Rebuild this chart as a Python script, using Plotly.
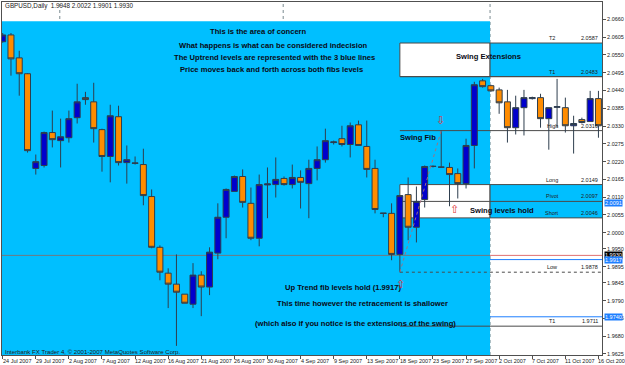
import plotly.graph_objects as go

# ---------------- data ----------------
bars = list(range(73))
opens = [2.0591, 2.0612, 2.0541, 2.0492, 2.0199, 2.0208, 2.0310, 2.0285, 2.0294, 2.0356,
         2.0418, 2.0405, 2.0319, 2.0236, 2.0359, 2.0217, 2.0216, 2.0211, 2.0112, 1.9955,
         1.9875, 1.9841, 1.9810, 1.9779, 1.9869, 1.9832, 1.9937, 2.0048, 2.0128, 2.0174,
         2.0091, 1.9983, 2.0148, 2.0149, 2.0168, 2.0149, 2.0171, 2.0152, 2.0199, 2.0226,
         2.0279, 2.0291, 2.0273, 2.0334, 2.0267, 2.0199, 2.0061, 2.0060, 1.9933, 2.0118,
         2.0017, 2.0103, 2.0206, 2.0203, 2.0202, 2.0183, 2.0152, 2.0270, 2.0470, 2.0455,
         2.0442, 2.0405, 2.0325, 2.0387, 2.0415, 2.0418, 2.0353, 2.0388, 2.0387, 2.0331,
         2.0350, 2.0344, 2.0415]
highs = [2.0618, 2.0618, 2.0563, 2.0494, 2.0242, 2.0313, 2.0378, 2.0353, 2.0378, 2.0461,
         2.0436, 2.0464, 2.0322, 2.0396, 2.0393, 2.0270, 2.0236, 2.0260, 2.0134, 1.9961,
         1.9890, 1.9933, 1.9810, 1.9906, 1.9881, 1.9955, 2.0091, 2.0137, 2.0177, 2.0196,
         2.0140, 2.0180, 2.0202, 2.0233, 2.0174, 2.0211, 2.0193, 2.0226, 2.0267, 2.0322,
         2.0285, 2.0331, 2.0341, 2.0347, 2.0347, 2.0226, 2.0061, 2.0091, 2.0115, 2.0171,
         2.0143, 2.0208, 2.0208, 2.0316, 2.0217, 2.0199, 2.0291, 2.0467, 2.0476, 2.0458,
         2.0449, 2.0442, 2.0424, 2.0442, 2.0421, 2.0430, 2.0387, 2.0476, 2.0418, 2.0362,
         2.0356, 2.0439, 2.0439]
lows = [2.0588, 2.0486, 2.0424, 2.0248, 2.0180, 2.0202, 2.0264, 2.0202, 2.0279, 2.0338,
        2.0396, 2.0279, 2.0189, 2.0156, 2.0208, 2.0152, 2.0211, 2.0085, 1.9952, 1.9853,
        1.9767, 1.9650, 1.9782, 1.9767, 1.9742, 1.9807, 1.9918, 1.9983, 2.0128, 2.0078,
        1.9977, 1.9958, 2.0045, 2.0109, 2.0146, 2.0137, 2.0075, 2.0045, 2.0162, 2.0217,
        2.0273, 2.0267, 2.0233, 2.0270, 2.0171, 2.0060, 2.0048, 1.9915, 1.9878, 1.9977,
        1.9970, 2.0078, 2.0202, 2.0202, 2.0082, 2.0106, 2.0137, 2.0199, 2.0449, 2.0436,
        2.0368, 2.0279, 2.0304, 2.0301, 2.0412, 2.0325, 2.0257, 2.0325, 2.0310, 2.0245,
        2.0338, 2.0344, 2.0294]
closes = [2.0612, 2.0538, 2.0492, 2.0254, 2.0220, 2.0310, 2.0288, 2.0297, 2.0353, 2.0405,
          2.0412, 2.0322, 2.0236, 2.0362, 2.0217, 2.0226, 2.0215, 2.0115, 1.9955, 1.9878,
          1.9841, 1.9816, 1.9782, 1.9869, 1.9832, 1.9940, 2.0048, 2.0134, 2.0174, 2.0094,
          1.9983, 2.0149, 2.0151, 2.0165, 2.0149, 2.0171, 2.0156, 2.0199, 2.0226, 2.0285,
          2.0281, 2.0273, 2.0331, 2.0270, 2.0196, 2.0072, 2.0060, 1.9933, 2.0115, 2.0017,
          2.0097, 2.0205, 2.0205, 2.0203, 2.0180, 2.0152, 2.0270, 2.0458, 2.0452, 2.0439,
          2.0402, 2.0325, 2.0387, 2.0418, 2.0418, 2.0353, 2.0387, 2.0390, 2.0331, 2.0338,
          2.0341, 2.0415, 2.0331]

date_labels = ["24 Jul 2007", "29 Jul 2007", "2 Aug 2007", "7 Aug 2007", "12 Aug 2007",
               "16 Aug 2007", "21 Aug 2007", "26 Aug 2007", "30 Aug 2007", "4 Sep 2007",
               "9 Sep 2007", "13 Sep 2007", "18 Sep 2007", "23 Sep 2007", "27 Sep 2007",
               "2 Oct 2007", "7 Oct 2007", "11 Oct 2007", "16 Oct 2007"]
label_bars = list(range(0, 73, 4))
month_sep_bars = [6.9, 33.9, 58.9]

price_ticks = [2.0660, 2.0605, 2.0550, 2.0495, 2.0440, 2.0385, 2.0330, 2.0275, 2.0220,
               2.0165, 2.0110, 2.0055, 2.0000, 1.9950, 1.9895, 1.9845, 1.9790, 1.9735,
               1.9680, 1.9625]

fib_names = ["T2", "T1", "High", "Long", "Pivot", "Short", "Low", "T1", "T2"]
fib_values = [2.0587, 2.0483, 2.0316, 2.0149, 2.0097, 2.0046, 1.9878, 1.9711, 1.9607]

swing_low_bar = 48
swing_high_bar = 53
swing_low = 1.9878
swing_high = 2.0316

blue_levels = [1.9917, 1.9740]
bid_price = 1.9930
dotted_level = 2.0091
area_top = 2.0654
area_end_bar = 58.9

header = "GBPUSD,Daily  1.9948 2.0022 1.9901 1.9930"
copyright_txt = "Interbank FX Trader 4, \u00a9 2001-2007 MetaQuotes Software Corp."

# ---------------- layout geometry ----------------
W, H = 625, 365
PL, PR, PT, PB = 2, 606, 1, 355
X0, X1 = -0.084, 72.43
Y0, Y1 = 1.96218, 2.07139

SKY = "#00BFFF"
GRID = "#7a8a90"
LINE = "#4a4a4a"
FONT = "Liberation Sans"


def ppx(x):
    return (x - PL) / (PR - PL)


def ppy(y):
    return (PB - y) / (PB - PT)


def bar_paper(b):
    return (b - X0) / (X1 - X0)


fig = go.Figure()
fig.add_trace(go.Candlestick(
    x=bars, open=opens, high=highs, low=lows, close=closes,
    increasing=dict(fillcolor="#0000CD", line=dict(color="#2e3e4e", width=1)),
    decreasing=dict(fillcolor="#FF8C00", line=dict(color="#2e3e4e", width=1)),
    whiskerwidth=0, showlegend=False, hoverinfo="skip",
))

shapes = []
shapes.append(dict(type="rect", xref="x", yref="y", x0=X0 - 1, x1=area_end_bar, y0=Y0 - 0.01,
                   y1=area_top, fillcolor=SKY, line=dict(width=0), layer="below"))
for top, bot in [(fib_values[0], fib_values[1]), (fib_values[3], fib_values[5])]:
    shapes.append(dict(type="rect", xref="x", yref="y", x0=swing_low_bar, x1=area_end_bar,
                       y0=bot, y1=top, fillcolor="white", line=dict(color=LINE, width=1),
                       layer="below"))
    shapes.append(dict(type="rect", xref="x", yref="y", x0=area_end_bar, x1=X1 + 1,
                       y0=bot, y1=top, fillcolor=SKY, line=dict(color=LINE, width=1),
                       layer="below"))
for b in month_sep_bars:
    shapes.append(dict(type="line", xref="x", yref="paper", x0=b, x1=b, y0=0, y1=1,
                       line=dict(color=GRID, width=1, dash="dot"), layer="below"))
for name, v in zip(fib_names, fib_values):
    if name in ("High", "Pivot", "T1"):
        shapes.append(dict(type="line", xref="x", yref="y", x0=swing_low_bar, x1=X1 + 1,
                           y0=v, y1=v, line=dict(color=LINE, width=1), layer="below"))
    elif name == "Low":
        shapes.append(dict(type="line", xref="x", yref="y", x0=swing_low_bar, x1=X1 + 1,
                           y0=v, y1=v, line=dict(color=LINE, width=1, dash="dot"),
                           layer="below"))
shapes.append(dict(type="line", xref="paper", yref="y", x0=0, x1=1, y0=dotted_level,
                   y1=dotted_level, line=dict(color="#3d8fff", width=1, dash="dot"),
                   layer="below"))
shapes.append(dict(type="line", xref="x", yref="y", x0=X0 - 1, x1=area_end_bar, y0=bid_price,
                   y1=bid_price, line=dict(color="#707a80", width=1), layer="below"))
shapes.append(dict(type="line", xref="x", yref="y", x0=area_end_bar, x1=X1 + 1,
                   y0=bid_price, y1=bid_price, line=dict(color="#e07070", width=1),
                   layer="below"))
for v in blue_levels:
    shapes.append(dict(type="line", xref="paper", yref="y", x0=0, x1=1, y0=v, y1=v,
                       line=dict(color="#1E7FFF", width=1), layer="below"))
shapes.append(dict(type="line", xref="x", yref="y", x0=swing_low_bar, y0=swing_low,
                   x1=swing_high_bar, y1=swing_high,
                   line=dict(color="#a07080", width=1, dash="dot"), layer="above"))

annotations = []


def txt(text, x, y, size=8, anchor="center", color="#000000", weight="normal", **kw):
    annotations.append(dict(text=text, xref="paper", yref="paper", x=ppx(x), y=ppy(y),
                            xanchor=anchor, yanchor="middle", showarrow=False,
                            font=dict(family=FONT, size=size, color=color, weight=weight),
                            **kw))


NOTE = dict(size=7.6, weight="bold", color="#0a0a14")
txt(header, 3, 5.5, size=6.3, anchor="left", color="#202020")
txt(copyright_txt, 3, 351, size=6.1, anchor="left", color="#202020")
txt("This is the area of concern", 260, 31, **NOTE)
txt("What happens is what can be considered indecision", 275.5, 44.5, **NOTE)
txt("The Uptrend levels are represented with the 3 blue lines", 276.5, 56.5, **NOTE)
txt("Price moves back and forth across both fibs levels", 273.5, 68.5, **NOTE)
txt("Swing Extensions", 492, 55.5, **NOTE)
txt("Swing Fib", 401, 137, anchor="left", **NOTE)
txt("Swing levels hold", 471, 210, anchor="left", **NOTE)
txt("Up Trend fib levels hold (1.9917)", 285, 287.5, anchor="left", **NOTE)
txt("This time however the retracement is shallower", 277, 303, anchor="left", **NOTE)
txt("(which also if you notice is the extensions of the swing)", 255, 323.5, anchor="left",
    **NOTE)

txt("\u21e7", 403, 284, size=11, color="#e03030")
txt("\u21e7", 458, 209, size=11, color="#e03030")
txt("\u21e9", 443.5, 119, size=11, color="#e03030")

for name, v in zip(fib_names, fib_values):
    annotations.append(dict(text=name, xref="x", yref="y", x=66.4, y=v, xanchor="center",
                            yanchor="bottom", showarrow=False,
                            font=dict(family=FONT, size=5.5, color="#202020")))
    annotations.append(dict(text=f"{v:.4f}", xref="x", yref="y", x=72.18, y=v,
                            xanchor="right", yanchor="bottom", showarrow=False,
                            font=dict(family=FONT, size=5.5, color="#202020")))

for b, lab in zip(label_bars, date_labels):
    annotations.append(dict(text=lab, xref="paper", yref="paper", x=bar_paper(b), y=0,
                            xanchor="left", yanchor="top", xshift=-2, yshift=-1,
                            showarrow=False,
                            font=dict(family=FONT, size=5.5, color="#202020")))

for v, bg in [(dotted_level, "#1E7FFF"), (bid_price, "#000000"), (blue_levels[0], "#1E7FFF"),
              (blue_levels[1], "#1E7FFF")]:
    annotations.append(dict(text=f"{v:.4f}", xref="paper", yref="y", x=1, y=v,
                            xanchor="left", yanchor="middle", xshift=2, showarrow=False,
                            bgcolor=bg, borderpad=0,
                            font=dict(family=FONT, size=5.5, color="white")))

fig.update_layout(
    width=W, height=H,
    margin=dict(l=PL, r=W - PR, t=PT, b=H - PB, pad=0),
    paper_bgcolor="white", plot_bgcolor="white",
    shapes=shapes, annotations=annotations,
    showlegend=False,
    boxgap=0.15, boxgroupgap=0.15,
    xaxis=dict(range=[X0, X1], rangeslider=dict(visible=False), showgrid=False,
               zeroline=False, tickvals=label_bars, ticktext=[""] * len(label_bars),
               ticks="outside", ticklen=3, tickcolor="#505050",
               showline=True, linecolor="#505050", linewidth=1, mirror=True),
    yaxis=dict(range=[Y0, Y1], side="right", showgrid=False, zeroline=False,
               tickvals=price_ticks, ticktext=[f"{v:.4f}" for v in price_ticks],
               ticks="outside", ticklen=3, tickcolor="#505050",
               tickfont=dict(family=FONT, size=5.5, color="#202020"),
               showline=True, linecolor="#505050", linewidth=1, mirror=True),
)

fig.write_html("out.html", config={"displayModeBar": False})
